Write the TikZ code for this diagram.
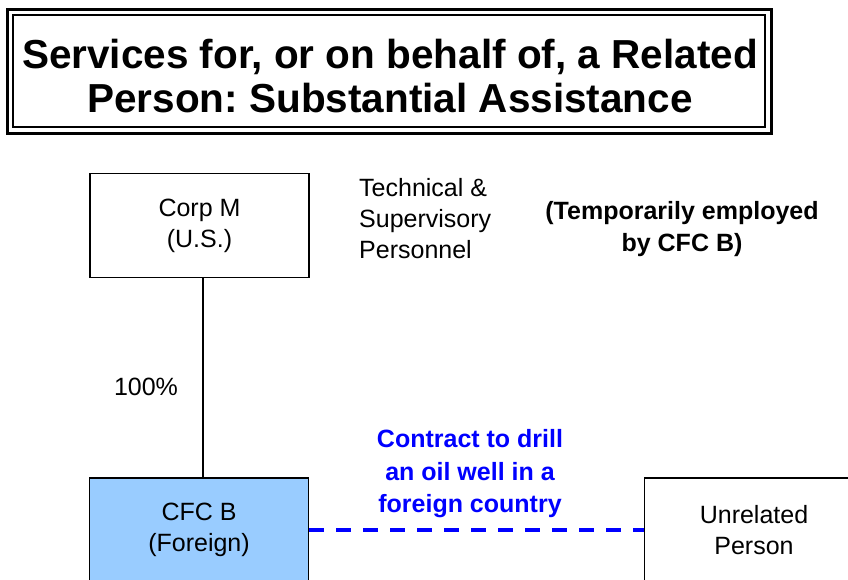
\documentclass[tikz,border=0pt]{standalone}
\usepackage{fontspec}
\setmainfont{Liberation Sans}
\frenchspacing
\definecolor{cfcblue}{HTML}{99CCFF}
\definecolor{pureblue}{RGB}{0,0,255}
\begin{document}
\begin{tikzpicture}[x=1pt,y=-1pt,
  entity/.style={draw=black, line width=1.5pt, minimum width=219pt, minimum height=104pt, inner sep=0pt, align=center, font=\fontsize{25}{31}\selectfont},
  plaintext/.style={inner sep=0pt, font=\fontsize{25}{31}\selectfont},
  boldtext/.style={inner sep=0pt, align=center, font=\bfseries\fontsize{25}{32.5}\selectfont},
  link/.style={draw=black, line width=1.5pt}]
\useasboundingbox (0,0) rectangle (848,579);
% title box
\draw[line width=3pt] (7,9) rectangle (771,133);
\draw[line width=2pt] (13,15) rectangle (765,127);
\node[inner sep=0pt, align=center, font=\bfseries\fontsize{40.5}{44}\selectfont] (title) at (390,76)
  {Services for, or on behalf of, a Related\\Person: Substantial Assistance};
% entities
\node[entity] (corpm) at (199.5,225.5) {Corp M\\(U.S.)};
\node[entity, fill=cfcblue] (cfcb) at (199,530) {CFC B\\(Foreign)};
\node[entity] (unrel) at (754,530) {Unrelated\\Person};
% texts
\node[plaintext, anchor=west, align=left] (tech) at (359,219) {Technical \&\\Supervisory\\Personnel};
\node[boldtext] (temp) at (682,229) {(Temporarily employed\\by CFC B)};
\node[plaintext] (pct) at (146,387) {100\%};
\node[boldtext, text=pureblue] (contract) at (470,474) {Contract to drill\\an oil well in a\\foreign country};
% connectors
\draw[link] (corpm.south -| 203,0) -- (cfcb.north -| 203,0);
\draw[draw=pureblue, line width=4pt, dash pattern=on 15pt off 12pt] (cfcb.east) -- (unrel.west);
\end{tikzpicture}
\end{document}
